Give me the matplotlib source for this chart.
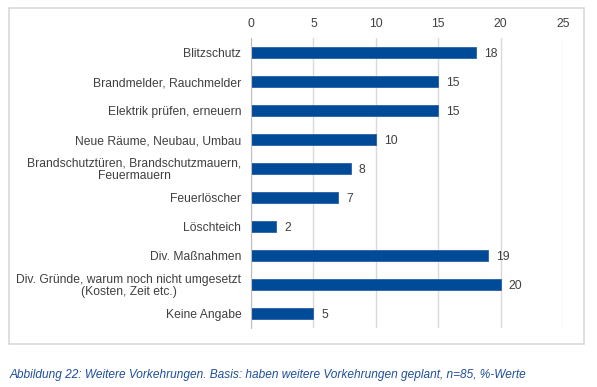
import matplotlib.pyplot as plt
from matplotlib.patches import Rectangle

plt.rcParams['font.family'] = ['Liberation Sans', 'DejaVu Sans']

categories = [
    "Blitzschutz",
    "Brandmelder, Rauchmelder",
    "Elektrik prüfen, erneuern",
    "Neue Räume, Neubau, Umbau",
    "Brandschutztüren, Brandschutzmauern,\nFeuermauern",
    "Feuerlöscher",
    "Löschteich",
    "Div. Maßnahmen",
    "Div. Gründe, warum noch nicht umgesetzt\n(Kosten, Zeit etc.)",
    "Keine Angabe",
]
values = [18, 15, 15, 10, 8, 7, 2, 19, 20, 5]
xticks = [0, 5, 10, 15, 20, 25]

W, H = 597, 387
fig = plt.figure(figsize=(W / 100, H / 100), dpi=100)

# outer frame around the chart
fig.patches.append(Rectangle((9 / W, 1 - 344 / H), (584 - 9) / W, (344 - 8) / H,
                             transform=fig.transFigure, fill=False,
                             edgecolor='#d9d9d9', linewidth=1.2))

fs = 8.7
ax = fig.add_axes([251 / W, 1 - 328 / H, (563 - 251) / W, (328 - 38) / H])
y = list(range(len(categories)))
ax.barh(y, values, height=0.36, color='#004b98', edgecolor='#2a5fa8', linewidth=0.6, zorder=3)
for yi, v in zip(y, values):
    ax.text(v + 0.65, yi + 0.04, str(v), va='center', ha='left', fontsize=fs, color='#404040')

ax.set_xlim(0, 25)
ax.set_ylim(len(categories) - 0.5, -0.5)
ax.set_xticks(xticks)
ax.set_yticks(y)
ax.set_yticklabels(categories, fontsize=fs, color='#404040', linespacing=1.05)
for lbl in ax.get_yticklabels():
    lbl.set_multialignment('center')
ax.xaxis.tick_top()
ax.tick_params(axis='x', length=0, labelsize=fs, labelcolor='#404040', pad=6)
ax.tick_params(axis='y', length=0, pad=7)
ax.grid(axis='x', color='#d9d9d9', linewidth=1, zorder=0)
for s in ['top', 'right', 'bottom']:
    ax.spines[s].set_visible(False)
ax.spines['left'].set_color('#bfbfbf')
ax.spines['left'].set_zorder(4)

fig.text(10 / W, 1 - 375 / H,
         "Abbildung 22: Weitere Vorkehrungen. Basis: haben weitere Vorkehrungen geplant, n=85, %-Werte",
         fontsize=8.6, style='italic', color='#1f4e9c', va='center', ha='left')

fig.savefig('out.png', dpi=100)
